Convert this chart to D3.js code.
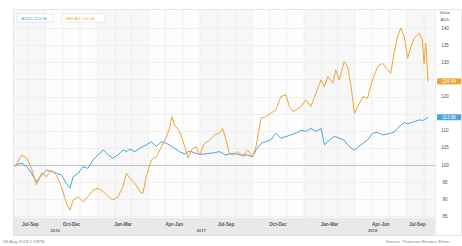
<!DOCTYPE html>
<html>
<head>
<meta charset="utf-8">
<script src="https://cdn.jsdelivr.net/npm/d3@7"></script>
<style>
  body { margin: 0; background: #fff; }
  text { font-family: "Liberation Sans", Arial, sans-serif; }
</style>
</head>
<body>
<script>
// values (rebased to 100 at the start)
var dates = ["2016-08-08","2016-08-20","2016-08-29","2016-09-06","2016-09-15","2016-09-24","2016-10-03","2016-10-11","2016-10-20","2016-10-29",
             "2016-11-07","2016-11-13","2016-11-19","2016-11-28","2016-12-06","2016-12-15","2016-12-24","2017-01-02","2017-01-11","2017-01-20",
             "2017-01-28","2017-02-06","2017-02-15","2017-02-21","2017-02-27","2017-03-08","2017-03-17","2017-03-22","2017-03-28","2017-04-06",
             "2017-04-15","2017-04-24","2017-05-03","2017-05-09","2017-05-12","2017-05-17","2017-05-26","2017-06-04","2017-06-10","2017-06-16",
             "2017-06-24","2017-06-30","2017-07-09","2017-07-18","2017-07-27","2017-08-04","2017-08-10","2017-08-16","2017-08-22","2017-08-28",
             "2017-09-06","2017-09-15","2017-09-23","2017-10-02","2017-10-08","2017-10-17","2017-10-25","2017-11-03","2017-11-12","2017-11-21",
             "2017-11-30","2017-12-06","2017-12-12","2017-12-18","2017-12-27","2018-01-04","2018-01-13","2018-01-22","2018-01-31","2018-02-06",
             "2018-02-12","2018-02-21","2018-02-26","2018-03-04","2018-03-13","2018-03-19","2018-03-25","2018-03-31","2018-04-06","2018-04-15",
             "2018-04-23","2018-05-02","2018-05-11","2018-05-20","2018-05-29","2018-06-03","2018-06-09","2018-06-15","2018-06-21","2018-06-27",
             "2018-07-03","2018-07-09","2018-07-15","2018-07-24","2018-07-29","2018-08-01","2018-08-04","2018-08-08"];

var orange = [99.5, 102.9, 102.0, 99.0, 94.2, 97.6, 96.6, 98.5, 97.1, 93.7,
              88.8, 86.8, 89.8, 90.7, 89.3, 90.7, 92.7, 93.2, 92.2, 90.7,
              89.8, 90.7, 93.7, 97.6, 96.1, 94.6, 92.2, 91.7, 96.6, 101.5,
              102.4, 105.4, 108.3, 111.2, 114.1, 111.7, 109.8, 105.4, 102.0, 104.4,
              105.4, 102.9, 106.3, 107.3, 108.8, 109.3, 110.7, 107.3, 103.4, 102.9,
              103.9, 102.4, 104.4, 102.4, 105.4, 113.7, 114.1, 115.1, 116.1, 120.0,
              120.5, 117.1, 115.6, 116.1, 117.1, 119.0, 117.1, 121.0, 124.9, 122.9,
              125.8, 123.9, 127.8, 124.9, 130.2, 128.8, 122.9, 115.1, 117.1, 120.0,
              119.5, 124.9, 128.8, 129.7, 127.8, 126.8, 132.7, 137.5, 140.0, 137.5,
              131.2, 134.6, 137.1, 138.5, 136.6, 129.7, 135.6, 124.44];

var blue = [100.0, 100.5, 99.5, 97.6, 95.1, 97.1, 98.5, 98.1, 97.6, 97.1,
            94.6, 93.2, 96.6, 97.6, 99.5, 99.0, 101.5, 102.9, 104.4, 102.9,
            102.0, 102.9, 104.4, 103.9, 104.6, 103.9, 104.9, 105.4, 105.9, 106.8,
            105.4, 106.8, 106.3, 105.7, 105.4, 104.9, 103.9, 103.2, 103.9, 103.9,
            103.4, 103.1, 103.2, 103.4, 103.6, 103.9, 103.4, 102.9, 103.2, 103.4,
            103.1, 102.9, 102.9, 102.4, 104.4, 106.3, 106.8, 107.3, 109.3, 107.8,
            108.3, 108.6, 109.0, 109.3, 110.2, 109.8, 110.7, 109.8, 110.7, 105.9,
            106.8, 108.1, 108.3, 107.8, 107.3, 105.9, 104.9, 104.4, 105.2, 106.3,
            107.3, 109.3, 109.5, 108.8, 109.1, 109.3, 109.6, 110.7, 111.7, 112.4,
            112.0, 112.4, 112.7, 113.2, 113.0, 113.2, 113.4, 113.96];

var seriesNames = [".AXJO", "JBH.AX"];
var yTicks = [85, 90, 95, 100, 105, 110, 115, 120, 125, 130, 135, 140];
var quarterLabels = ["Jul-Sep", "Oct-Dec", "Jan-Mar", "Apr-Jun", "Jul-Sep", "Oct-Dec", "Jan-Mar", "Apr-Jun", "Jul-Sep"];
var yearLabels = ["2016", "2017", "2018"];
var yearDates = ["2016-10-18", "2017-07-03", "2018-05-02"];

var parse = d3.timeParse("%Y-%m-%d");
var fmt = d3.format(".2f");

var screen = {width: 462, height: 246};
var plot = {left: 13, right: 435, top: 10, bottom: 218};
var colors = {blue: "#47a6dc", orange: "#f0a432"};

var start = parse(dates[0]), end = parse(dates[dates.length - 1]);

var x = d3.scaleTime()
          .domain([start, end])
          .range([15, 428]);

var y = d3.scaleLinear()
          .domain([84.5, 145.3])
          .range([plot.bottom, plot.top]);

var svg = d3.select("body")
            .append("svg")
            .attr("width", screen.width)
            .attr("height", screen.height);

// alternate quarter shading (very faint)
var quarters = d3.timeMonth.every(3).range(new Date(2016, 6, 1), new Date(2018, 9, 1));
svg.append("g")
   .selectAll("rect")
   .data(quarters)
   .enter()
   .append("rect")
   .attr("x", function(d) {return Math.max(plot.left, x(d));})
   .attr("y", plot.top)
   .attr("width", function(d) {
     var a = Math.max(plot.left, x(d)), b = Math.min(plot.right, x(d3.timeMonth.offset(d, 3)));
     return Math.max(0, b - a);
   })
   .attr("height", plot.bottom - plot.top)
   .attr("fill", function(d, i) {return i % 2 == 0 ? "#f7f7f7" : "#fdfdfd";});

// month gridlines
svg.append("g")
   .selectAll("line")
   .data(d3.timeMonth.range(start, end))
   .enter()
   .append("line")
   .attr("x1", function(d) {return x(d);})
   .attr("x2", function(d) {return x(d);})
   .attr("y1", plot.top)
   .attr("y2", plot.bottom)
   .attr("stroke", "#e8e8e8")
   .attr("stroke-width", 0.6);

// horizontal gridlines
svg.append("g")
   .selectAll("line")
   .data(yTicks)
   .enter()
   .append("line")
   .attr("x1", plot.left)
   .attr("x2", plot.right)
   .attr("y1", function(d) {return Math.round(y(d)) + 0.5;})
   .attr("y2", function(d) {return Math.round(y(d)) + 0.5;})
   .attr("stroke", function(d) {return d == 100 ? "#b5b5b5" : "#e8e8e8";})
   .attr("stroke-width", function(d) {return d == 100 ? 0.8 : 0.6;});

// x axis band
svg.append("rect")
   .attr("x", plot.left)
   .attr("y", plot.bottom)
   .attr("width", plot.right - plot.left)
   .attr("height", 18)
   .attr("fill", "#e9e9e9");

svg.append("g")
   .selectAll("text")
   .data(quarters)
   .enter()
   .append("text")
   .attr("x", function(d) {
     var a = Math.max(x(start), x(d)), b = Math.min(x(end), x(d3.timeMonth.offset(d, 3)));
     return (a + b) / 2;
   })
   .attr("y", 226)
   .attr("text-anchor", "middle")
   .attr("font-size", "4.6px")
   .attr("font-weight", "bold")
   .attr("fill", "#555")
   .text(function(d, i) {return quarterLabels[i];});

svg.append("g")
   .selectAll("text")
   .data(yearLabels)
   .enter()
   .append("text")
   .attr("x", function(d, i) {return x(parse(yearDates[i]));})
   .attr("y", 231.5)
   .attr("text-anchor", "middle")
   .attr("font-size", "4.2px")
   .attr("font-weight", "bold")
   .attr("fill", "#666")
   .text(function(d) {return d;});

// frame
svg.append("rect")
   .attr("x", plot.left + 0.5)
   .attr("y", plot.top - 0.5)
   .attr("width", 461 - plot.left)
   .attr("height", 236 - plot.top)
   .attr("fill", "none")
   .attr("stroke", "#dcdcdc")
   .attr("stroke-width", 0.7);

svg.append("line")
   .attr("x1", plot.right + 0.5).attr("x2", plot.right + 0.5)
   .attr("y1", plot.top).attr("y2", 236)
   .attr("stroke", "#e4e4e4")
   .attr("stroke-width", 0.6);

// lines
var line = d3.line()
             .x(function(d, i) {return x(parse(dates[i]));})
             .y(function(d) {return y(d);});

svg.append("path")
   .datum(blue)
   .attr("d", line)
   .attr("fill", "none")
   .attr("stroke", colors.blue)
   .attr("stroke-width", 1)
   .attr("stroke-linejoin", "round");

svg.append("path")
   .datum(orange)
   .attr("d", line)
   .attr("fill", "none")
   .attr("stroke", colors.orange)
   .attr("stroke-width", 1)
   .attr("stroke-linejoin", "round");

// last value tags
var tags = [{v: orange[orange.length - 1], c: colors.orange}, {v: blue[blue.length - 1], c: colors.blue}];

// right axis (labels hidden where a tag sits on them)
var freeTicks = yTicks.filter(function(t) {
  return tags.every(function(g) {return Math.abs(y(t) - y(g.v)) > 5.5;});
});

svg.append("g")
   .selectAll("text")
   .data(freeTicks)
   .enter()
   .append("text")
   .attr("x", 445)
   .attr("y", function(d) {return y(d) + 1.6;})
   .attr("text-anchor", "middle")
   .attr("font-size", "4.6px")
   .attr("fill", "#555")
   .text(function(d) {return d;});

svg.append("text").attr("x", 445).attr("y", 14).attr("text-anchor", "middle")
   .attr("font-size", "4.2px").attr("fill", "#555").text("Value");
svg.append("text").attr("x", 445).attr("y", 20.5).attr("text-anchor", "middle")
   .attr("font-size", "4.2px").attr("fill", "#555").text("AUD");

var tag = svg.append("g")
             .selectAll("g")
             .data(tags)
             .enter()
             .append("g");

tag.append("rect")
   .attr("x", 437)
   .attr("y", function(d) {return y(d.v) - 3;})
   .attr("width", 24)
   .attr("height", 6)
   .attr("fill", function(d) {return d.c;});

tag.append("text")
   .attr("x", 449)
   .attr("y", function(d) {return y(d.v) + 1.6;})
   .attr("text-anchor", "middle")
   .attr("font-size", "4.6px")
   .attr("fill", "#fff")
   .text(function(d) {return fmt(d.v);});

// legend
var legend = [{name: seriesNames[0], v: blue[blue.length - 1], c: colors.blue, x: 17, w: 36},
              {name: seriesNames[1], v: orange[orange.length - 1], c: colors.orange, x: 62, w: 43}];

var lg = svg.append("g")
            .selectAll("g")
            .data(legend)
            .enter()
            .append("g");

lg.append("rect")
  .attr("x", function(d) {return d.x;})
  .attr("y", 14)
  .attr("width", function(d) {return d.w;})
  .attr("height", 8)
  .attr("fill", "#fff")
  .attr("stroke", "#dddddd")
  .attr("stroke-width", 0.6);

lg.append("text")
  .attr("x", function(d) {return d.x + 3;})
  .attr("y", 19.6)
  .attr("font-size", "4.4px")
  .attr("fill", function(d) {return d.c;})
  .text(function(d) {return d.name + " " + fmt(d.v);});

// footer
svg.append("text").attr("x", 3).attr("y", 242.5)
   .attr("font-size", "4.4px").attr("fill", "#888").text("08-Aug-2018 2:19PM");
svg.append("text").attr("x", 386).attr("y", 242.5)
   .attr("font-size", "4.4px").attr("fill", "#888").text("Source: Thomson Reuters Eikon");
</script>
</body>
</html>
